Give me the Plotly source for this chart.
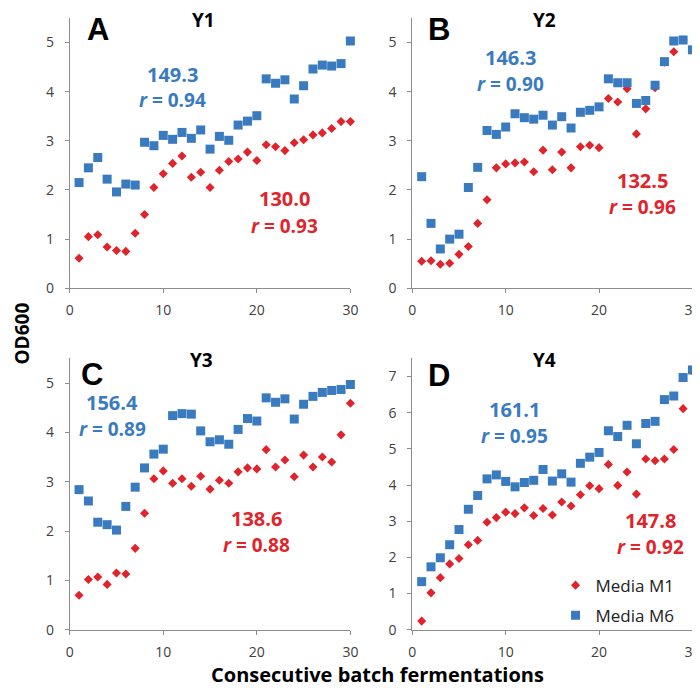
import plotly.graph_objects as go

batches = list(range(1, 31))

y1_m1 = [0.61, 1.05, 1.09, 0.84, 0.77, 0.75, 1.12, 1.50, 2.05, 2.33, 2.54, 2.69, 2.26, 2.36, 2.05,
         2.40, 2.58, 2.63, 2.77, 2.60, 2.92, 2.88, 2.80, 2.96, 3.02, 3.12, 3.16, 3.25, 3.39, 3.39]
y1_m6 = [2.15, 2.45, 2.66, 2.22, 1.96, 2.12, 2.10, 2.97, 2.90, 3.11, 3.03, 3.17, 3.05, 3.22, 2.83,
         3.09, 3.01, 3.32, 3.40, 3.51, 4.26, 4.17, 4.24, 3.85, 4.12, 4.46, 4.54, 4.52, 4.57, 5.03]

y2_m1 = [0.55, 0.56, 0.49, 0.51, 0.69, 0.85, 1.32, 1.80, 2.45, 2.53, 2.55, 2.57, 2.37, 2.81, 2.41,
         2.77, 2.45, 2.88, 2.91, 2.86, 3.86, 3.79, 4.06, 3.14, 3.65, 4.08, 4.60, 4.81, 5.05, 5.51]
y2_m6 = [2.27, 1.32, 0.80, 1.00, 1.10, 2.05, 2.46, 3.21, 3.13, 3.28, 3.55, 3.47, 3.44, 3.52, 3.32,
         3.49, 3.26, 3.58, 3.62, 3.69, 4.26, 4.18, 4.18, 3.76, 3.82, 4.13, 4.61, 5.03, 5.05, 4.85]

y3_m1 = [0.70, 1.02, 1.07, 0.92, 1.15, 1.13, 1.65, 2.36, 3.06, 3.22, 2.97, 3.06, 2.91, 3.11, 2.85,
         3.03, 2.97, 3.20, 3.28, 3.26, 3.65, 3.30, 3.44, 3.10, 3.54, 3.30, 3.50, 3.40, 3.95, 4.59]
y3_m6 = [2.84, 2.61, 2.18, 2.13, 2.02, 2.50, 2.89, 3.28, 3.56, 3.66, 4.34, 4.38, 4.37, 4.03, 3.81,
         3.85, 3.76, 4.06, 4.28, 4.23, 4.70, 4.61, 4.68, 4.27, 4.57, 4.73, 4.81, 4.85, 4.87, 4.97]

y4_m1 = [0.24, 1.02, 1.44, 1.82, 1.97, 2.35, 2.47, 2.97, 3.10, 3.25, 3.21, 3.37, 3.16, 3.35, 3.17,
         3.53, 3.42, 3.73, 3.98, 3.90, 4.57, 3.99, 4.36, 3.75, 4.72, 4.67, 4.72, 4.98, 6.11, 7.15]
y4_m6 = [1.33, 1.74, 1.99, 2.35, 2.77, 3.33, 3.71, 4.17, 4.28, 4.10, 3.95, 4.07, 4.13, 4.43, 4.11,
         4.31, 4.08, 4.60, 4.77, 4.90, 5.50, 5.34, 5.65, 5.14, 5.70, 5.76, 6.36, 6.46, 6.97, 7.18]

panel_letters = ["A", "B", "C", "D"]
panel_titles = ["Y1", "Y2", "Y3", "Y4"]
m6_value = ["149.3", "146.3", "156.4", "161.1"]
m6_r = ["0.94", "0.90", "0.89", "0.95"]
m1_value = ["130.0", "132.5", "138.6", "147.8"]
m1_r = ["0.93", "0.96", "0.88", "0.92"]
y_max = [5.5, 5.5, 5.5, 7.5]
x_ticks = [0, 10, 20, 30]

W, H = 700, 690
RED = "#e0242b"
BLUE = "#3a7bbf"
AXIS = "#8c8c8c"
TICKFONT = dict(family="Open Sans", size=14, color="#404040")


def px(x):
    return x / W


def py(y):
    return 1 - y / H


# panel plot areas in pixels: (left, right, top, bottom)
areas = [(58.7, 344.3, 10, 284), (407.3, 692.3, 10, 284),
         (58.7, 344.3, 355, 630), (407.3, 692.3, 355, 630)]

fig = go.Figure()
series = [(y1_m1, y1_m6), (y2_m1, y2_m6), (y3_m1, y3_m6), (y4_m1, y4_m6)]

layout = {}
for i, (m1, m6) in enumerate(series):
    n = "" if i == 0 else str(i + 1)
    xa, ya = "x" + n, "y" + n
    fig.add_trace(go.Scatter(x=batches, y=m1, mode="markers", name="Media M1",
                             marker=dict(symbol="diamond", size=7, color=RED),
                             cliponaxis=False,
                             xaxis=xa, yaxis=ya, showlegend=(i == 3), legendgroup="m1"))
    fig.add_trace(go.Scatter(x=batches, y=m6, mode="markers", name="Media M6",
                             marker=dict(symbol="square", size=9, color=BLUE),
                             cliponaxis=False,
                             xaxis=xa, yaxis=ya, showlegend=(i == 3), legendgroup="m6"))
    l, r, t, b = areas[i]
    layout["xaxis" + n] = dict(domain=[px(l), px(r)], range=[0, 30], anchor=ya,
                               tickvals=x_ticks, showgrid=False, zeroline=False,
                               showline=True, linecolor=AXIS, linewidth=1,
                               ticks="outside", ticklen=4, tickcolor=AXIS,
                               tickfont=TICKFONT, ticklabelstandoff=5)
    layout["yaxis" + n] = dict(domain=[py(b), py(t)], range=[0, y_max[i]], anchor=xa,
                               dtick=1, showgrid=False, zeroline=False,
                               showline=True, linecolor=AXIS, linewidth=1,
                               ticks="outside", ticklen=4, tickcolor=AXIS,
                               tickfont=TICKFONT, ticklabelstandoff=8)

fig.update_layout(**layout)

# annotation pixel positions (centers)
letter_pos = [(88, 22), (434, 22), (81, 371), (434, 372)]
title_pos = [(195, 12), (542, 12), (193, 357), (542, 357)]
m6_pos = [(163, 67, 93), (507, 50, 77), (102, 400, 427), (511, 407, 434)]
m1_pos = [(277, 193, 221), (641, 175, 202), (249, 517, 544), (650, 519, 546)]

ann = []
for i in range(4):
    lx, ly = letter_pos[i]
    ann.append(dict(text="<b>%s</b>" % panel_letters[i], x=px(lx), y=py(ly),
                    font=dict(family="Liberation Sans", size=31, color="black")))
    tx, ty = title_pos[i]
    ann.append(dict(text="<b>%s</b>" % panel_titles[i], x=px(tx), y=py(ty),
                    font=dict(family="Open Sans", size=19, color="black")))
    bx, by1, by2 = m6_pos[i]
    ann.append(dict(text="<b>%s</b>" % m6_value[i], x=px(bx), y=py(by1),
                    font=dict(family="Open Sans", size=20, color=BLUE)))
    ann.append(dict(text="<b><i>r</i> = %s</b>" % m6_r[i], x=px(bx), y=py(by2),
                    font=dict(family="Open Sans", size=19, color=BLUE)))
    rx, ry1, ry2 = m1_pos[i]
    ann.append(dict(text="<b>%s</b>" % m1_value[i], x=px(rx), y=py(ry1),
                    font=dict(family="Open Sans", size=20, color=RED)))
    ann.append(dict(text="<b><i>r</i> = %s</b>" % m1_r[i], x=px(rx), y=py(ry2),
                    font=dict(family="Open Sans", size=19, color=RED)))

for a in ann:
    a.update(xanchor="center", yanchor="middle")

ann.append(dict(text="<b>OD600</b>", x=px(10), y=py(330), textangle=-90,
                xanchor="center", yanchor="middle",
                font=dict(family="Open Sans", size=19, color="black")))
ann.append(dict(text="<b>Consecutive batch fermentations</b>", x=px(372), y=0,
                xanchor="center", yanchor="bottom", borderpad=0,
                font=dict(family="Open Sans", size=20, color="black")))

for a in ann:
    a.update(xref="paper", yref="paper", showarrow=False)

fig.update_layout(
    width=W, height=H,
    margin=dict(l=0, r=0, t=0, b=0),
    paper_bgcolor="white", plot_bgcolor="white",
    annotations=ann,
    showlegend=True,
    legend=dict(x=px(553), y=py(567), xanchor="left", yanchor="top",
                font=dict(family="Open Sans", size=17, color="#222222"),
                bgcolor="rgba(0,0,0,0)", tracegroupgap=5, itemwidth=30,
                traceorder="grouped"),
)

fig.write_html("out.html")
